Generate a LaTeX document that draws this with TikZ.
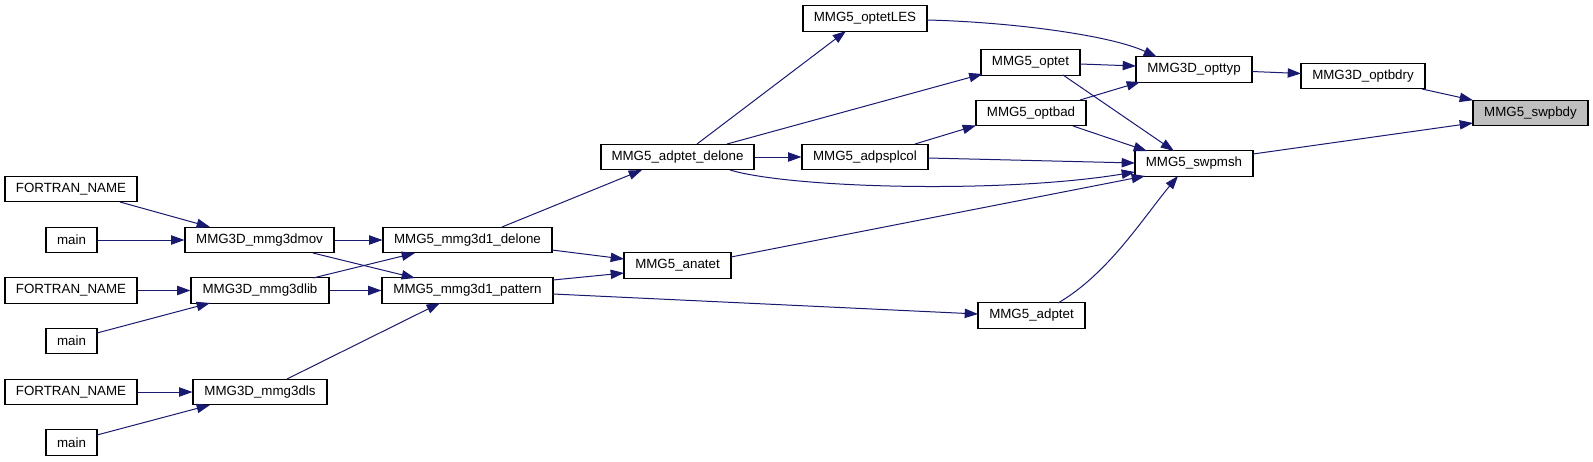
\documentclass[tikz,border=0pt]{standalone}
\usepackage{fontspec}
\setmainfont{Liberation Sans}
\usetikzlibrary{arrows.meta,calc}
\definecolor{edgeblue}{RGB}{25,25,112}
\definecolor{startgray}{RGB}{191,191,191}
\begin{document}
\begin{tikzpicture}[x=0.75pt,y=-0.75pt,
  box/.style={draw=black, fill=white, line width=0.8pt, inner sep=0pt,
    minimum height=19.1pt, font=\fontsize{10}{12}\selectfont},
  bw/.style={minimum width=#1*0.75pt},
  startbox/.style={box, fill=startgray},
  edge/.style={draw=edgeblue, line width=0.75pt, -{Triangle[length=10pt,width=7pt]}}]
\useasboundingbox (0,0) rectangle (1593,461);
% nodes
\node[box,bw=132] (f1) at (71,189) {FORTRAN\_NAME};
\node[box,bw=51] (m1) at (71.5,240) {main};
\node[box,bw=132] (f2) at (71,290.5) {FORTRAN\_NAME};
\node[box,bw=51] (m2) at (71.5,341) {main};
\node[box,bw=132] (f3) at (71,392) {FORTRAN\_NAME};
\node[box,bw=51] (m3) at (71.5,442.5) {main};
\node[box,bw=149] (mov) at (259.5,240) {MMG3D\_mmg3dmov};
\node[box,bw=138] (lib) at (260,290.5) {MMG3D\_mmg3dlib};
\node[box,bw=134] (ls) at (260,392) {MMG3D\_mmg3dls};
\node[box,bw=169] (del) at (467.5,240) {MMG5\_mmg3d1\_delone};
\node[box,bw=171] (pat) at (467.5,290.5) {MMG5\_mmg3d1\_pattern};
\node[box,bw=107] (ana) at (677.5,265.5) {MMG5\_anatet};
\node[box,bw=153] (adl) at (677.5,157) {MMG5\_adptet\_delone};
\node[box,bw=124] (les) at (865,18.5) {MMG5\_optetLES};
\node[box,bw=126] (spl) at (865,157) {MMG5\_adpsplcol};
\node[box,bw=99] (opt) at (1030.5,62.5) {MMG5\_optet};
\node[box,bw=110] (bad) at (1031,113) {MMG5\_optbad};
\node[box,bw=107] (adp) at (1031.5,315.5) {MMG5\_adptet};
\node[box,bw=116] (typ) at (1194,69.5) {MMG3D\_opttyp};
\node[box,bw=118] (swm) at (1194,163.5) {MMG5\_swpmsh};
\node[box,bw=124] (bdr) at (1363,76) {MMG3D\_optbdry};
\node[startbox,bw=115] (swb) at (1530.5,113) {MMG5\_swpbdy};
% edges
\draw[edge] ($(f1.center)+(49,13)$) -- ($(mov.center)+(-49.5,-13)$);
\draw[edge] (m1.east) -- (mov.west);
\draw[edge] (mov.east) -- (del.west);
\draw[edge] ($(mov.center)+(53.5,13)$) -- ($(pat.center)+(-52.5,-12.5)$);
\draw[edge] ($(lib.center)+(53,-12.5)$) -- ($(del.center)+(-52.5,13)$);
\draw[edge] (lib.east) -- (pat.west);
\draw[edge] (f2.east) -- (lib.west);
\draw[edge] ($(m2.center)+(25.5,-8)$) -- ($(lib.center)+(-50,12.5)$);
\draw[edge] (f3.east) -- (ls.west);
\draw[edge] ($(m3.center)+(25.5,-7.5)$) -- ($(ls.center)+(-50,13)$);
\draw[edge] ($(ls.center)+(27,-13)$) -- ($(pat.center)+(-27.5,12.5)$);
\draw[edge] ($(del.center)+(34.5,-13)$) -- ($(adl.center)+(-35.5,13)$);
\draw[edge] ($(del.center)+(84.5,10)$) -- ($(ana.center)+(-53.5,-6.5)$);
\draw[edge] ($(pat.center)+(85.5,-10.5)$) -- ($(ana.center)+(-53.5,7.5)$);
\draw[edge] ($(pat.center)+(85.5,3.5)$) -- ($(adp.center)+(-53.5,-1.5)$);
\draw[edge] ($(adl.center)+(19.5,-13)$) -- ($(les.center)+(-19,12.5)$);
\draw[edge] ($(adl.center)+(49.5,-13)$) -- ($(opt.center)+(-48,11.5)$);
\draw[edge] (adl.east) -- (spl.west);
\draw[edge] ($(adl.center)+(52.5,13)$) .. controls (790,188) and (1000,194) .. ($(swm.center)+(-59,8.5)$);
\draw[edge] ($(spl.center)+(50,-13)$) -- ($(bad.center)+(-55,12.5)$);
\draw[edge] ($(spl.center)+(63,1)$) -- ($(swm.center)+(-59,-0.5)$);
\draw[edge] ($(les.center)+(62,1.5)$) .. controls (1010,22) and (1110,35) .. ($(typ.center)+(-37,-12.5)$);
\draw[edge] ($(opt.center)+(49.5,1.5)$) -- ($(typ.center)+(-58,-3.5)$);
\draw[edge] ($(opt.center)+(32.5,12.5)$) -- ($(swm.center)+(-20,-12.5)$);
\draw[edge] ($(bad.center)+(49,-13)$) -- ($(typ.center)+(-54,12.5)$);
\draw[edge] ($(bad.center)+(42,13)$) -- ($(swm.center)+(-47,-12.5)$);
\draw[edge] ($(ana.center)+(53.5,-8.5)$) -- ($(swm.center)+(-49,12.5)$);
\draw[edge] ($(adp.center)+(26.5,-12.5)$) .. controls (1108,274) and (1143,218) .. ($(swm.center)+(-16,12.5)$);
\draw[edge] ($(swm.center)+(59,-9.5)$) -- ($(swb.center)+(-57.5,10)$);
\draw[edge] ($(typ.center)+(58,2)$) -- ($(bdr.center)+(-62,-2.5)$);
\draw[edge] ($(bdr.center)+(59,13)$) -- ($(swb.center)+(-57.5,-12.75)$);
\end{tikzpicture}
\end{document}
